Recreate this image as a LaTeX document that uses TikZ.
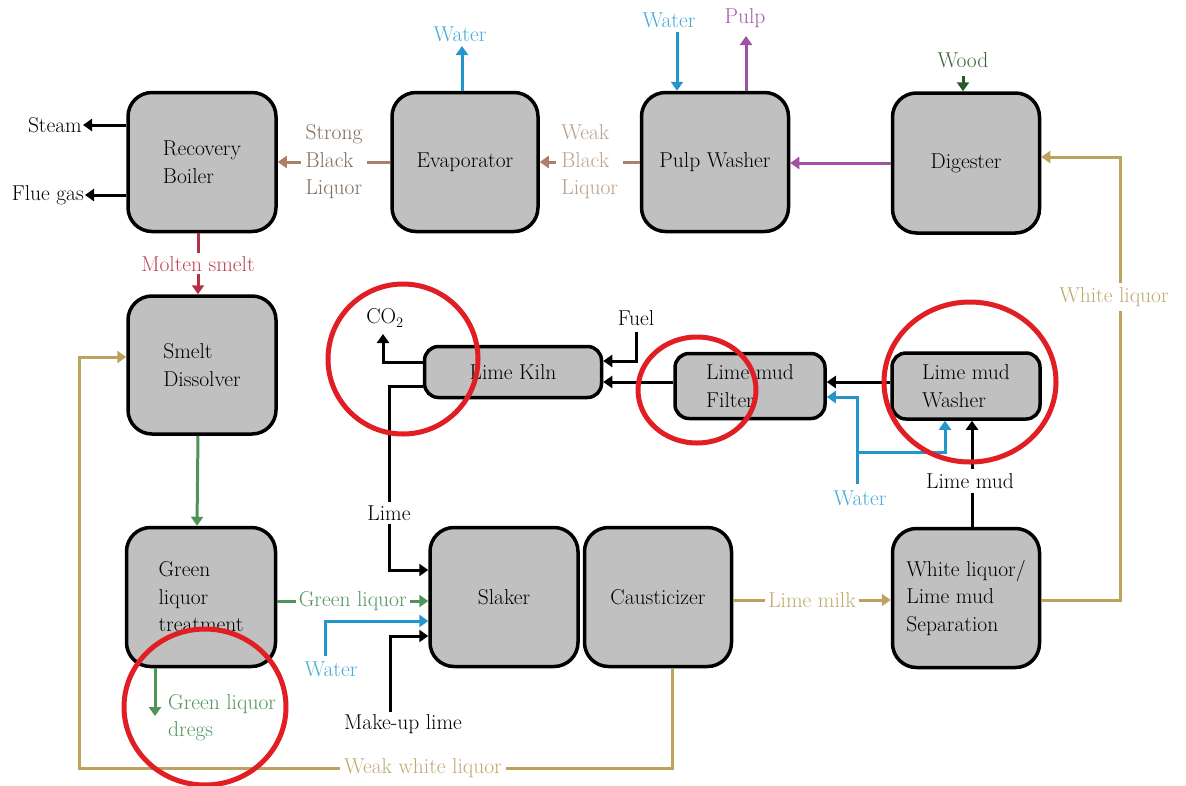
\documentclass[tikz,border=0pt]{standalone}
\usetikzlibrary{arrows.meta}
\definecolor{boxgray}{RGB}{192,192,192}
\definecolor{brnline}{RGB}{172,128,104}
\definecolor{sbltext}{RGB}{128,108,92}
\definecolor{wbltext}{RGB}{185,160,140}
\definecolor{bluline}{RGB}{36,150,205}
\definecolor{blutext}{RGB}{70,170,215}
\definecolor{purline}{RGB}{160,80,165}
\definecolor{purtext}{RGB}{165,90,170}
\definecolor{woodline}{RGB}{40,90,40}
\definecolor{woodtext}{RGB}{60,100,60}
\definecolor{gldline}{RGB}{188,162,92}
\definecolor{gldtext}{RGB}{190,170,112}
\definecolor{redline}{RGB}{178,50,70}
\definecolor{redtext}{RGB}{190,70,85}
\definecolor{grnline}{RGB}{78,148,90}
\definecolor{grntext}{RGB}{80,150,95}
\definecolor{circred}{RGB}{225,30,35}
\begin{document}
\begin{tikzpicture}[x=1pt,y=-1pt,
  font=\fontsize{21.5}{27.5}\selectfont,
  bigbox/.style={draw, line width=3.5pt, fill=boxgray, rounded corners=24pt,
    align=left, inner sep=0pt, minimum width=148pt, minimum height=139pt},
  smallbox/.style={bigbox, rounded corners=14pt},
  conn/.style={line width=3pt, -{Triangle[length=9pt,width=12pt]}},
  blk/.style={conn, black},
  brn/.style={conn, brnline},
  blu/.style={conn, bluline},
  pur/.style={conn, purline},
  wood/.style={conn, woodline},
  gld/.style={conn, gldline},
  rdl/.style={conn, redline},
  grn/.style={conn, grnline},
  lbl/.style={inner sep=1pt, align=left},
  gap/.style={lbl, fill=white, inner sep=5pt},
  ring/.style={draw=circred, line width=5pt}]
\useasboundingbox[fill=white] (0,0) rectangle (1186,785);

% boxes
\node[bigbox] (rb) at (202,162) {Recovery\\Boiler};
\node[bigbox, minimum width=146pt] (ev) at (465,162) {Evaporator};
\node[bigbox, minimum width=147pt] (pw) at (715,162) {Pulp Washer};
\node[bigbox, minimum width=147pt, minimum height=140pt] (dg) at (966,163) {Digester};
\node[bigbox, minimum height=138pt] (sd) at (202,365) {Smelt\\Dissolver};
\node[bigbox, minimum width=149pt] (gl) at (201,597) {Green\\liquor\\treatment};
\node[bigbox] (sl) at (504,597) {Slaker};
\node[bigbox, minimum width=147pt] (ca) at (658,597) {Causticizer};
\node[bigbox, minimum width=147pt] (ws) at (966,598) {White liquor/\\Lime mud\\Separation};
\node[smallbox, minimum width=177pt, minimum height=51pt] (lk) at (513,372) {Lime Kiln};
\node[smallbox, minimum width=150pt, minimum height=65pt] (lf) at (750,386) {Lime mud\\Filter};
\node[smallbox, minimum width=148pt, minimum height=66pt] (lw) at (966,386) {Lime mud\\Washer};

% recovery boiler outputs
\node[lbl, anchor=east] (steam) at (83,125) {Steam};
\draw[blk] (rb.west |- steam) -- (steam.east);
\node[lbl, anchor=east] (flue) at (85,195) {Flue gas};
\draw[blk] (rb.west |- flue) -- (flue.east);

% black liquor
\draw[brn] (ev.west) -- (rb.east)
  node[midway, gap, text=sbltext] {Strong\\Black\\Liquor};
\draw[brn] (pw.west) -- (ev.west -| ev.east)
  node[midway, gap, text=wbltext] {Weak\\Black\\Liquor};

% evaporator water
\coordinate (evw) at (462,46);
\draw[blu] (ev.north -| evw) -- (evw);
\node[lbl, text=blutext] (evwl) at (460,34) {Water};

% pulp washer water and pulp
\coordinate (pww) at (677,32);
\draw[blu] (pww) -- (pww |- pw.north);
\node[lbl, text=blutext] (pwwl) at (669,20) {Water};
\coordinate (pp) at (746,36);
\draw[pur] (pw.north -| pp) -- (pp);
\node[lbl, text=purtext] (ppl) at (745,18) {Pulp};

% digester
\draw[pur] (dg.west) -- (dg.west -| pw.east);
\coordinate (wd) at (963,76);
\draw[wood] (wd) -- (wd |- dg.north);
\node[lbl, text=woodtext] (wdl) at (963,60) {Wood};

% white liquor
\coordinate (wlc) at (1120,157);
\draw[gld] ([yshift=-2pt]ws.east) -| (wlc) -- (wlc -| dg.east);
\node[gap, text=gldtext, inner sep=4pt] (wll) at (1114,297) {White liquor};

% molten smelt, green liquor
\draw[rdl] ([xshift=-4pt]rb.south) -- ([xshift=-4pt]sd.north)
  node[midway, gap, text=redtext, inner sep=3pt] {Molten smelt};
\draw[grn] ([xshift=-4pt]sd.south) -- ([xshift=-4pt]gl.north);
\coordinate (dregs) at (155,716);
\draw[grn] (gl.south -| dregs) -- (dregs);
\node[lbl, text=grntext, anchor=north west] (dregsl) at (167,693) {Green liquor\\dregs};
\draw[grn] ([yshift=-4pt]gl.east) -- ([yshift=-4pt]gl.east -| sl.west)
  node[midway, gap, text=grntext, inner sep=3pt] {Green liquor};

% slaker inputs
\coordinate (sw) at (325,656);
\draw[blu] (sw) |- ([yshift=-24pt]sl.west);
\node[lbl, text=blutext] (swl) at (331,669) {Water};
\coordinate (limeX) at (389,570);
\draw[blk] ([yshift=-14pt]lk.west) -| (limeX) -- (limeX -| sl.west);
\node[gap, inner sep=4pt] (limel) at (389,513) {Lime};
\coordinate (mu) at (390,712);
\draw[blk] (mu) |- ([yshift=-39pt]sl.west);
\node[lbl] (mul) at (403,724) {Make-up lime};

% lime kiln
\coordinate (co2) at (383,334);
\draw[blk] ([yshift=10pt]lk.west) -| (co2);
\node[lbl] (co2l) at (385,318) {CO$_2$};
\coordinate (fuel) at (636,332);
\draw[blk] (fuel) |- ([yshift=11pt]lk.east);
\node[lbl] (fuell) at (636,318) {Fuel};
\draw[blk] ([yshift=4pt]lf.west) -- ([yshift=4pt]lf.west -| lk.east);
\draw[blk] ([yshift=4pt]lw.west) -- ([yshift=4pt]lw.west -| lf.east);

% lime mud water
\coordinate (lmw) at (857,484);
\coordinate (lmwb) at (857,452);
\draw[blu] (lmw) |- ([yshift=-11pt]lf.east);
\draw[blu] (lmwb) -| ([xshift=-21pt]lw.south);
\node[lbl, text=blutext] (lmwl) at (860,498) {Water};

% lime mud
\draw[blk] ([xshift=6pt]ws.north) -- ([xshift=6pt]lw.south);
\node[gap, inner sep=4pt] (lmudl) at (970,481) {Lime mud};

% lime milk
\draw[gld] ([yshift=-3pt]ca.east) -- ([yshift=-3pt]ca.east -| ws.west)
  node[midway, gap, text=gldtext, inner sep=3pt] {Lime milk};

% weak white liquor
\coordinate (wwl1) at (672,768);
\coordinate (wwl2) at (79,768);
\draw[gld] (ca.south -| wwl1) -- (wwl1) -- (wwl2) |- ([yshift=8pt]sd.west);
\node[gap, text=gldtext, inner sep=4pt] (wwll) at (423,768) {Weak white liquor};

% red annotation rings
\draw[ring] (403,359) ellipse [x radius=75pt, y radius=75pt];
\draw[ring] (697,390) ellipse [x radius=59pt, y radius=53pt];
\draw[ring] (970,382) ellipse [x radius=86pt, y radius=80pt];
\draw[ring] (205,707) ellipse [x radius=81pt, y radius=78pt];
\end{tikzpicture}
\end{document}
